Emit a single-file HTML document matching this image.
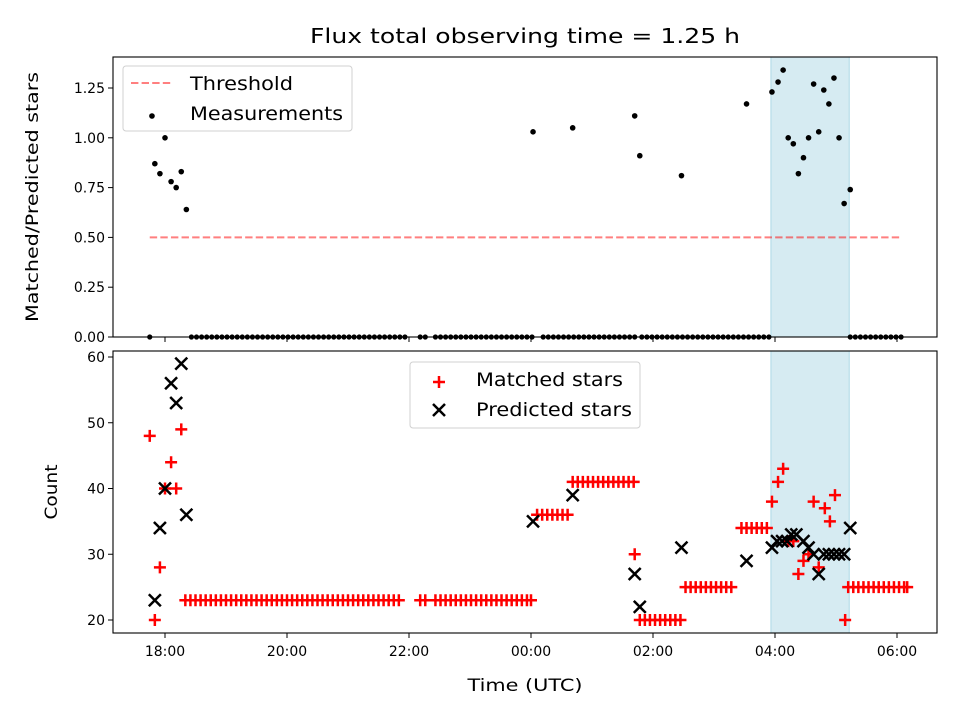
<!DOCTYPE html>
<html><head><meta charset="utf-8"><style>
body{margin:0;background:#fff}
svg text{font-family:"DejaVu Sans","Liberation Sans",sans-serif;fill:#000}
</style></head><body>
<div style="position:relative;width:960px;height:720px">
<svg id="c" width="960" height="720" style="position:absolute;left:0;top:0" xmlns="http://www.w3.org/2000/svg"></svg>
<script>
// times in minutes since 18:00 UTC
const xTickLabels=["18:00","20:00","22:00","00:00","02:00","04:00","06:00"];
const xTickMinutes=[0,120,240,360,480,600,720];
const topTicks=[0,0.25,0.5,0.75,1.0,1.25];
const botTicks=[20,30,40,50,60];
const threshold=0.5;
const thresholdRange=[-15,723];
const shadeRange=[596,673];
const ratioT=[-13,-10,-5,0,6,11,16,21,362,401,462,467,508,572,597,603,608,613,618,623,628,633,638,643,648,653,658,663,668,674];
const ratioV=[1.11,0.87,0.82,1.0,0.78,0.75,0.83,0.64,1.03,1.05,1.11,0.91,0.81,1.17,1.23,1.28,1.34,1.0,0.97,0.82,0.90,1.0,1.27,1.03,1.24,1.17,1.30,1.0,0.67,0.74];
const zeroT=[-15,26,31,36,41,46,51,56,61,66,71,76,81,86,91,96,101,106,111,116,121,126,131,136,141,146,151,156,161,166,171,176,181,186,191,196,201,206,211,216,221,226,231,236,251,256,266,271,276,281,286,291,296,301,306,311,316,321,326,331,336,341,346,351,356,361,372,377,382,387,392,397,402,407,412,417,422,427,432,437,442,447,452,457,462,469,474,479,484,489,494,499,504,509,514,519,524,529,534,539,544,549,554,559,564,569,574,579,584,589,594,674,679,684,689,694,699,704,709,714,719,724];
const matchedT=[-15,-10,-5,0,6,11,16,20,25,30,35,40,45,50,55,60,65,70,75,80,85,90,95,100,105,110,115,120,125,130,135,140,145,150,155,160,165,170,175,180,185,190,195,200,205,210,215,220,225,230,251,256,266,271,276,281,286,291,296,301,306,311,316,321,326,331,336,341,346,351,356,360,366,371,376,381,386,391,396,401,406,411,416,421,426,431,436,441,446,451,456,461,462,467,472,477,482,487,492,497,502,507,512,517,522,527,532,537,542,547,552,557,567,572,577,582,587,592,597,603,608,613,618,623,628,633,638,643,649,654,659,669,672,677,682,687,692,697,702,707,712,717,722,727,730];
const matchedV=[48,20,28,40,44,40,49,23,23,23,23,23,23,23,23,23,23,23,23,23,23,23,23,23,23,23,23,23,23,23,23,23,23,23,23,23,23,23,23,23,23,23,23,23,23,23,23,23,23,23,23,23,23,23,23,23,23,23,23,23,23,23,23,23,23,23,23,23,23,23,23,23,36,36,36,36,36,36,36,41,41,41,41,41,41,41,41,41,41,41,41,41,30,20,20,20,20,20,20,20,20,20,25,25,25,25,25,25,25,25,25,25,34,34,34,34,34,34,38,41,43,32,32,27,29,30,38,28,37,35,39,20,25,25,25,25,25,25,25,25,25,25,25,25,25];
const predT=[-10,-5,0,6,11,16,21,362,401,462,467,508,572,597,602,607,612,616,621,628,633,638,643,648,653,658,663,668,674];
const predV=[23,34,40,56,53,59,36,35,39,27,22,31,29,31,32,32,32,33,33,32,31,30,27,30,30,30,30,30,34];

const NS="http://www.w3.org/2000/svg";
const svg=document.getElementById('c');
function el(tag,a,parent){const e=document.createElementNS(NS,tag);for(const k in a)e.setAttribute(k,a[k]);(parent||svg).appendChild(e);return e;}
const L=113,R=937;
const X=m=>165+m*61/60;
const YT=v=>337-v*199.2;
const YB=v=>620-(v-20)*6.575;
const panels=[{top:57,bot:337},{top:351,bot:633}];

panels.forEach((p,i)=>{
 const r=el('rect',{x:X(shadeRange[0]),y:p.top,width:X(shadeRange[1])-X(shadeRange[0]),height:p.bot-p.top,fill:'#add8e6','fill-opacity':0.5,stroke:'#add8e6'});
 
 
});

const th=el('line',{x1:X(thresholdRange[0]),x2:X(thresholdRange[1]),y1:YT(threshold),y2:YT(threshold),stroke:'#ff0000','stroke-opacity':0.5,'stroke-width':2,'stroke-dasharray':'7.4,3.2'});



const gm=el('g',{});


zeroT.forEach(t=>{const c=el('circle',{cx:X(t),cy:YT(0),r:2.6,fill:'#000'},gm);
 
 });
ratioT.forEach((t,i)=>{const c=el('circle',{cx:X(t),cy:YT(ratioV[i]),r:2.8,fill:'#000'},gm);
 
 });

const gp=el('g',{});


matchedT.forEach((t,i)=>{const x=X(t),y=YB(matchedV[i]);
 const p=el('path',{d:`M${x-6},${y}H${x+6}M${x},${y-6}V${y+6}`,stroke:'#ff0000','stroke-width':2.5},gp);
 
 });
const gx=el('g',{});


predT.forEach((t,i)=>{const x=X(t),y=YB(predV[i]);
 const p=el('path',{d:`M${x-6},${y-6}L${x+6},${y+6}M${x-6},${y+6}L${x+6},${y-6}`,stroke:'#000','stroke-width':2.5},gx);
 
 });

panels.forEach((p,i)=>{
 const f=el('rect',{x:L,y:p.top,width:R-L,height:p.bot-p.top,fill:'none',stroke:'#000','stroke-width':1.1});
 
 
 xTickMinutes.forEach((m,j)=>{
  el('line',{x1:X(m),x2:X(m),y1:p.bot,y2:p.bot+5,stroke:'#000'});
  if(i===1){const tx=el('text',{x:X(m),y:p.bot+23,'text-anchor':'middle','font-size':14});tx.textContent=xTickLabels[j];
   
   }
 });
});
topTicks.forEach(v=>{el('line',{x1:L-5,x2:L,y1:YT(v),y2:YT(v),stroke:'#000'});
 const t=el('text',{x:L-8,y:YT(v)+5,'text-anchor':'end','font-size':14});t.textContent=v.toFixed(2);
 
 });
botTicks.forEach(v=>{el('line',{x1:L-5,x2:L,y1:YB(v),y2:YB(v),stroke:'#000'});
 const t=el('text',{x:L-8,y:YB(v)+5,'text-anchor':'end','font-size':14});t.textContent=v;
 
 });
</script>
<svg width="960" height="720" style="position:absolute;left:0;top:0;pointer-events:none" xmlns="http://www.w3.org/2000/svg">
<text x="525" y="43" text-anchor="middle" font-size="20" textLength="430" lengthAdjust="spacingAndGlyphs">Flux total observing time = 1.25 h</text>
<text x="525" y="691" text-anchor="middle" font-size="16.5" textLength="115" lengthAdjust="spacingAndGlyphs">Time (UTC)</text>
<text transform="translate(38,197) rotate(-90)" text-anchor="middle" font-size="16.5" textLength="250" lengthAdjust="spacingAndGlyphs">Matched/Predicted stars</text>
<text transform="translate(57,492) rotate(-90)" text-anchor="middle" font-size="16.5" textLength="55" lengthAdjust="spacingAndGlyphs">Count</text>
<g>
<rect x="123" y="66" width="229" height="65" rx="3" fill="#fff" fill-opacity="0.8" stroke="#d0d0d0"/>
<line x1="131" x2="173" y1="83" y2="83" stroke="#ff0000" stroke-opacity="0.5" stroke-width="2" stroke-dasharray="7.4,3.2"/>
<text x="190" y="90" font-size="19" textLength="103" lengthAdjust="spacingAndGlyphs">Threshold</text>
<circle cx="152" cy="116" r="2.8" fill="#000"/>
<text x="190" y="120" font-size="19" textLength="153" lengthAdjust="spacingAndGlyphs">Measurements</text>
</g>
<g>
<rect x="410" y="362" width="230" height="66" rx="3" fill="#fff" fill-opacity="0.8" stroke="#d0d0d0"/>
<path d="M433,382H445M439,376V388" stroke="#ff0000" stroke-width="2.5"/>
<text x="476" y="386" font-size="19" textLength="147" lengthAdjust="spacingAndGlyphs">Matched stars</text>
<path d="M433,404L445,416M433,416L445,404" stroke="#000" stroke-width="2.5"/>
<text x="476" y="416" font-size="19" textLength="156" lengthAdjust="spacingAndGlyphs">Predicted stars</text>
</g>
</svg>
</div>
</body></html>
